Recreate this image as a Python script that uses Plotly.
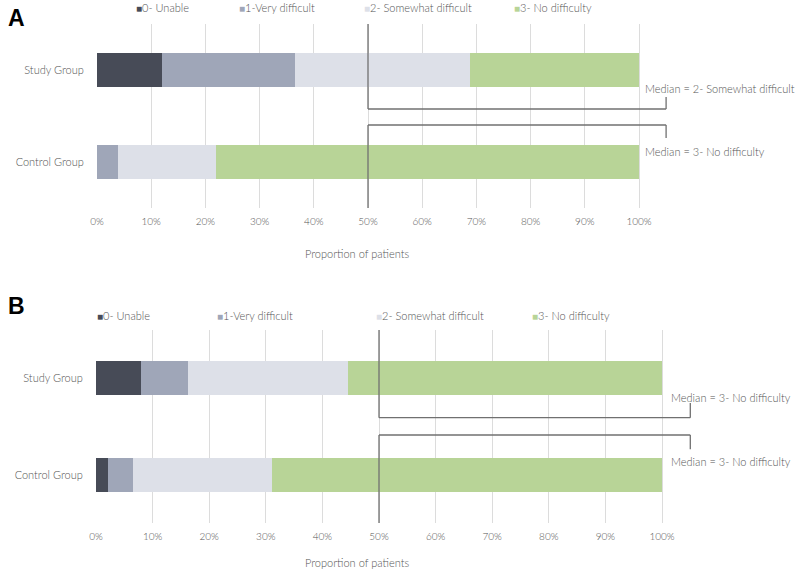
import plotly.graph_objects as go

# ---------------- data ----------------
groups = ["Control Group", "Study Group"]
levels = ["0- Unable", "1-Very difficult", "2- Somewhat difficult", "3- No difficulty"]
colors = ["#474b57", "#9fa6b8", "#dde0e8", "#b8d497"]

# proportions (Control, Study) per level, panel A
a_unable = [0.0, 0.120]
a_very = [0.039, 0.245]
a_somewhat = [0.181, 0.324]
a_none = [0.780, 0.311]

# panel B
b_unable = [0.021, 0.080]
b_very = [0.045, 0.082]
b_somewhat = [0.245, 0.284]
b_none = [0.689, 0.554]

a_medians = ["Median = 3- No difficulty", "Median = 2- Somewhat difficult"]
b_medians = ["Median = 3- No difficulty", "Median = 3- No difficulty"]

tick_vals = [i / 10 for i in range(11)]
tick_text = [f"{i * 10}%" for i in range(11)]

FONT = "Lato"
TXT = "#555555"

fig = go.Figure()

panel_a = [a_unable, a_very, a_somewhat, a_none]
panel_b = [b_unable, b_very, b_somewhat, b_none]

for vals, col, name in zip(panel_a, colors, levels):
    fig.add_trace(go.Bar(y=groups, x=vals, orientation="h", marker=dict(color=col, line=dict(width=0)),
                         name=name, width=0.36, xaxis="x", yaxis="y", showlegend=False))
for vals, col, name in zip(panel_b, colors, levels):
    fig.add_trace(go.Bar(y=groups, x=vals, orientation="h", marker=dict(color=col, line=dict(width=0)),
                         name=name, width=0.35, xaxis="x2", yaxis="y2", showlegend=False))

W, H = 797, 572
common_x = dict(tickvals=tick_vals, ticktext=tick_text, showgrid=True, gridcolor="#dcdcdc", gridwidth=1,
                zeroline=False, showline=False, ticks="outside", ticklen=4, tickcolor="rgba(0,0,0,0)",
                automargin=False,
                tickfont=dict(family=FONT, size=10, color=TXT, weight=300))
common_y = dict(showgrid=False, zeroline=False, showline=False, ticks="outside", ticklen=10,
                tickcolor="rgba(0,0,0,0)", range=[-0.5, 1.5], automargin=False,
                tickfont=dict(family=FONT, size=11, color=TXT, weight=300))

fig.update_layout(
    width=W, height=H, margin=dict(l=0, r=0, t=0, b=0, autoexpand=False),
    paper_bgcolor="white", plot_bgcolor="white", barmode="stack", bargap=0.6,
    xaxis=dict(domain=[97 / W, (97 + 1.25 * 542) / W], range=[0, 1.25], anchor="y", **common_x),
    yaxis=dict(domain=[1 - 208 / H, 1 - 24 / H], anchor="x", **common_y),
    xaxis2=dict(domain=[96 / W, (96 + 1.2 * 566) / W], range=[0, 1.2], anchor="y2", **common_x),
    yaxis2=dict(domain=[1 - 523 / H, 1 - 330 / H], anchor="x2", **common_y),
)

line = dict(color="#707070", width=1.3)
median_x = 0.5
bracket_x = 1.05

def bracket(xr, yr, y_upper_turn, y_upper_tip, y_lower_turn, y_lower_tip):
    shapes = [
        dict(type="line", xref=xr, yref=yr, x0=median_x, x1=median_x, y0=1.5, y1=y_upper_turn, line=line),
        dict(type="line", xref=xr, yref=yr, x0=median_x, x1=bracket_x, y0=y_upper_turn, y1=y_upper_turn, line=line),
        dict(type="line", xref=xr, yref=yr, x0=bracket_x, x1=bracket_x, y0=y_upper_turn, y1=y_upper_tip, line=line),
        dict(type="line", xref=xr, yref=yr, x0=median_x, x1=median_x, y0=-0.5, y1=y_lower_turn, line=line),
        dict(type="line", xref=xr, yref=yr, x0=median_x, x1=bracket_x, y0=y_lower_turn, y1=y_lower_turn, line=line),
        dict(type="line", xref=xr, yref=yr, x0=bracket_x, x1=bracket_x, y0=y_lower_turn, y1=y_lower_tip, line=line),
    ]
    return shapes

shapes = bracket("x", "y", 0.576, 0.707, 0.402, 0.261) + bracket("x2", "y2", 0.591, 0.744, 0.412, 0.264)
fig.update_layout(shapes=shapes)

ann = []
fnt = dict(family=FONT, size=11, color=TXT, weight=300)
mfnt = dict(family=FONT, size=11, color=TXT, weight=300)
# median labels
ann.append(dict(xref="x", yref="y", x=1.008, y=0.804, text=a_medians[1], showarrow=False, xanchor="left", font=mfnt))
ann.append(dict(xref="x", yref="y", x=1.008, y=0.109, text=a_medians[0], showarrow=False, xanchor="left", font=mfnt))
ann.append(dict(xref="x2", yref="y2", x=1.012, y=0.798, text=b_medians[1], showarrow=False, xanchor="left", font=mfnt))
ann.append(dict(xref="x2", yref="y2", x=1.012, y=0.135, text=b_medians[0], showarrow=False, xanchor="left", font=mfnt))

# axis titles
ann.append(dict(xref="paper", yref="paper", x=357 / W, y=1 - 253 / H, text="Proportion of patients",
                showarrow=False, yanchor="middle", font=fnt))
ann.append(dict(xref="paper", yref="paper", x=357 / W, y=1 - 562 / H, text="Proportion of patients",
                showarrow=False, yanchor="middle", font=fnt))

# panel letters
ann.append(dict(xref="paper", yref="paper", x=6 / W, y=1 - 18 / H, text="<b>A</b>", showarrow=False,
                xanchor="left", yanchor="middle", font=dict(family="Liberation Sans", size=23, color="black")))
ann.append(dict(xref="paper", yref="paper", x=6 / W, y=1 - 306 / H, text="<b>B</b>", showarrow=False,
                xanchor="left", yanchor="middle", font=dict(family="Liberation Sans", size=23, color="black")))

# legends
leg_a_x = [134, 237, 362, 512]
leg_b_x = [95, 215, 374, 530]
for xs, yy in ((leg_a_x, 8), (leg_b_x, 315)):
    for xx, col, name in zip(xs, colors, levels):
        ann.append(dict(xref="paper", yref="paper", x=xx / W, y=1 - yy / H, xanchor="left", yanchor="middle",
                        text=f"<span style='color:{col};font-size:10px'>■</span>{name}",
                        showarrow=False, font=fnt))

fig.update_layout(annotations=ann)
fig.write_html("out.html", config={"displayModeBar": False},
               post_script="document.body.style.margin='0px';document.body.style.padding='0px';")
